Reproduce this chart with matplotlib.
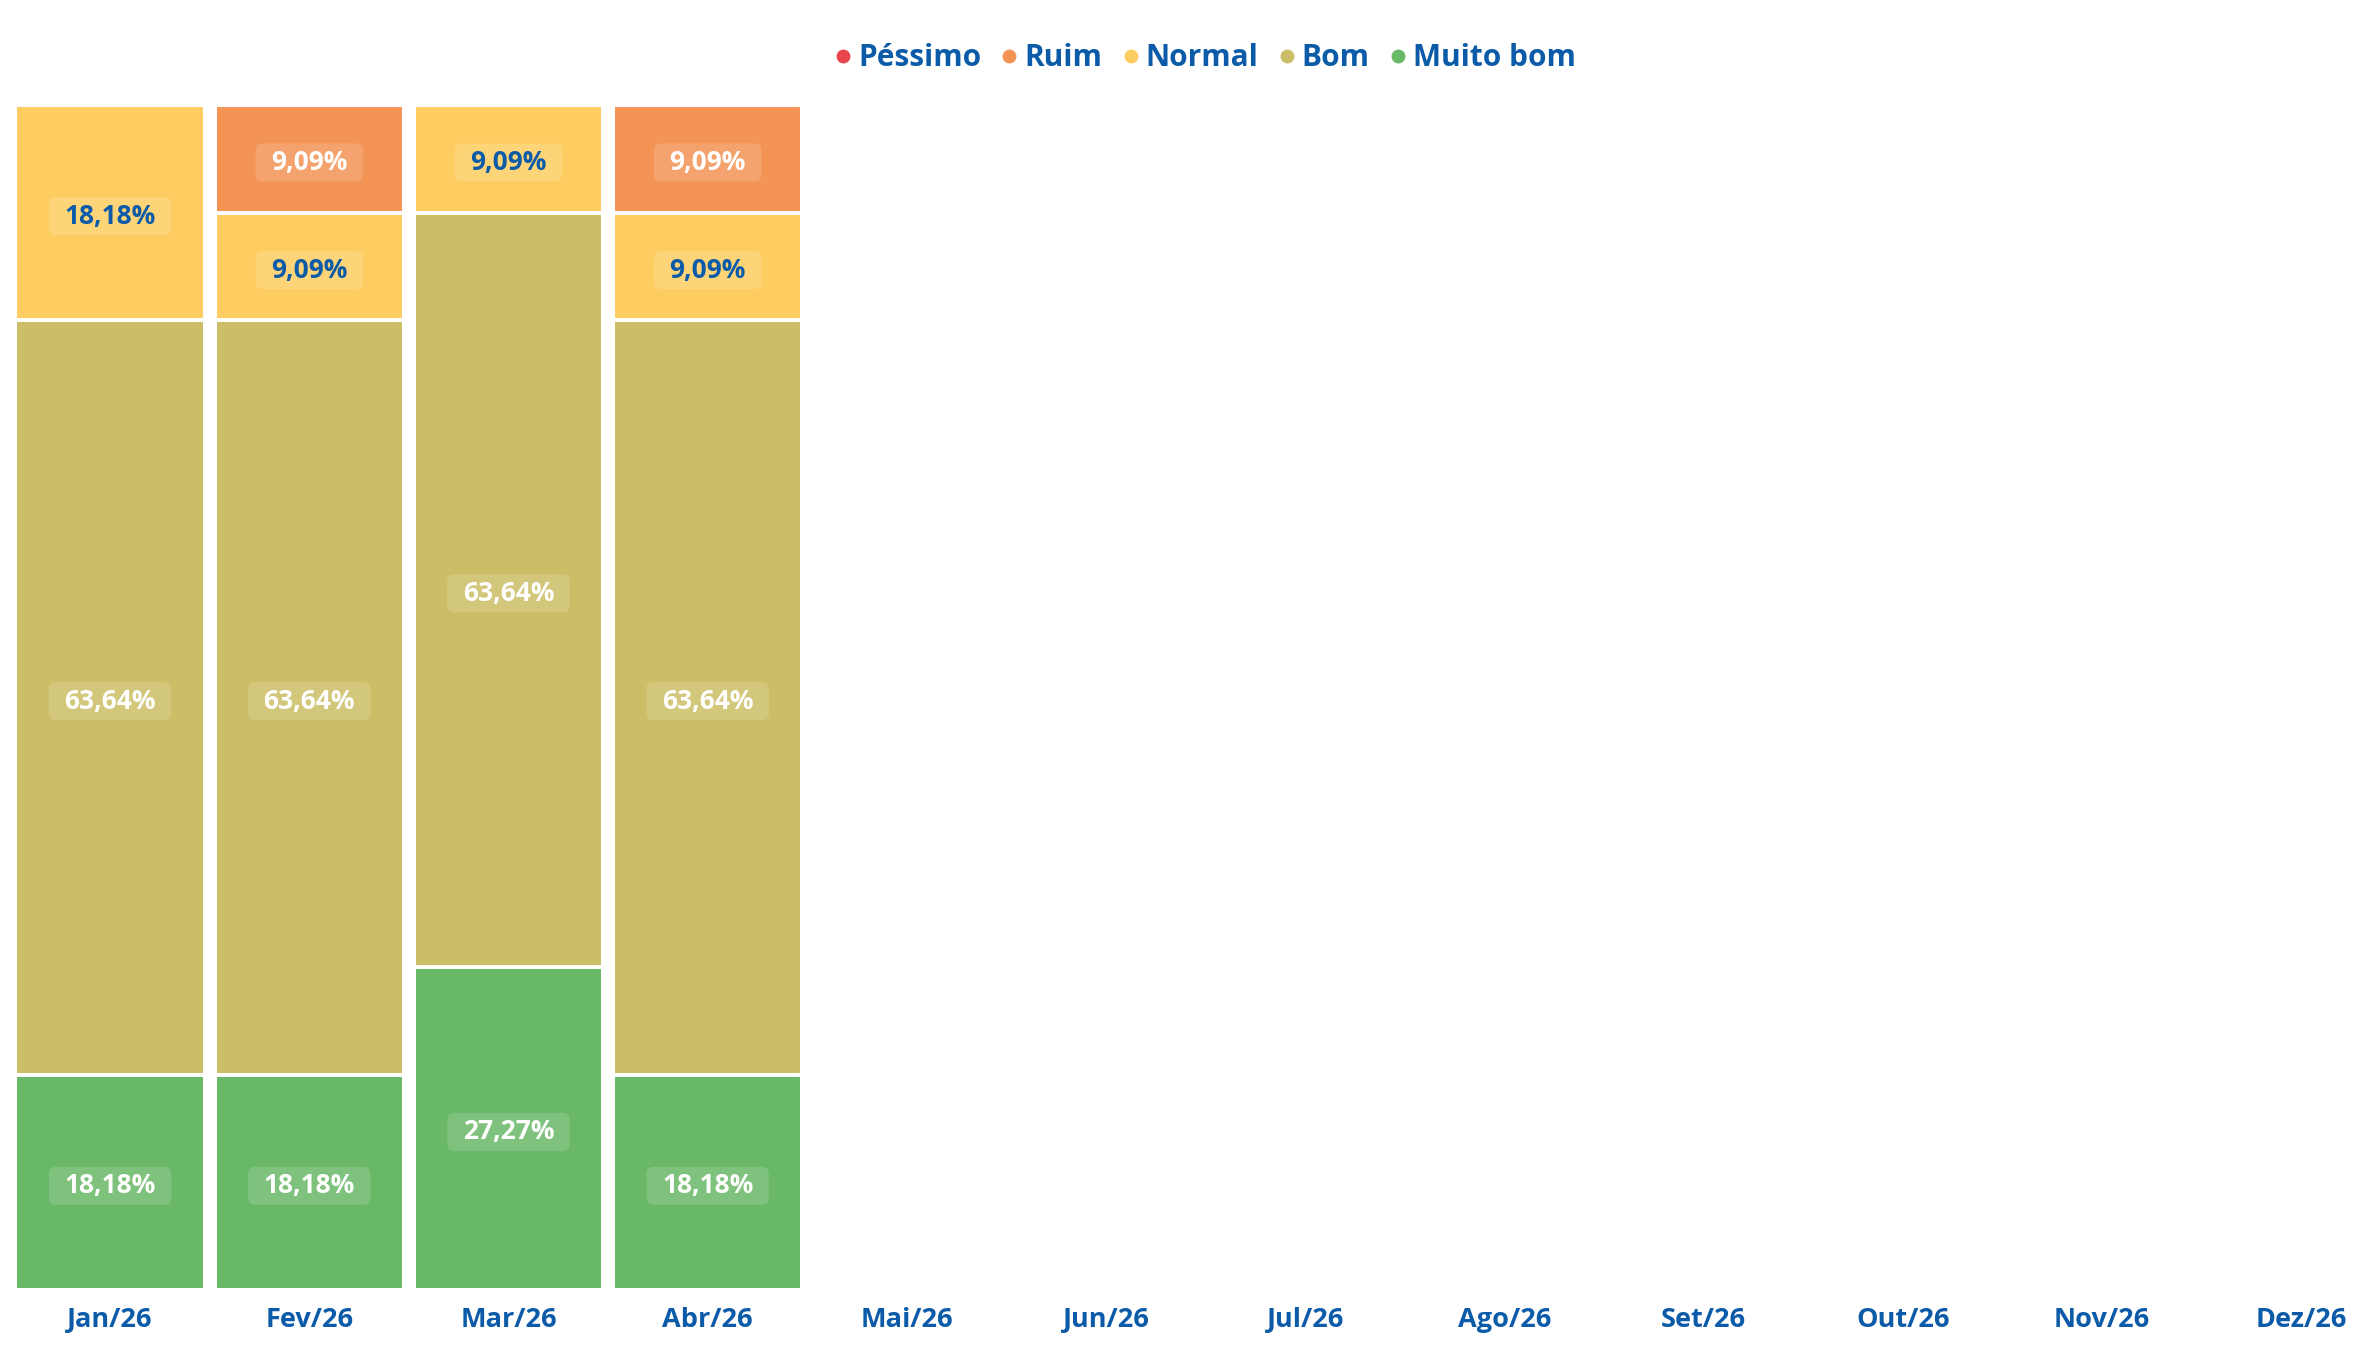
import matplotlib
matplotlib.use("Agg")
import matplotlib.pyplot as plt
from matplotlib.lines import Line2D
from matplotlib.patches import FancyBboxPatch
from matplotlib.transforms import IdentityTransform
import numpy as np

months = ["Jan/26", "Fev/26", "Mar/26", "Abr/26", "Mai/26", "Jun/26",
          "Jul/26", "Ago/26", "Set/26", "Out/26", "Nov/26", "Dez/26"]
categories = ["Péssimo", "Ruim", "Normal", "Bom", "Muito bom"]
pessimo = [0, 0, 0, 0, 0, 0, 0, 0, 0, 0, 0, 0]
ruim = [0, 9.09, 0, 9.09, 0, 0, 0, 0, 0, 0, 0, 0]
normal = [18.18, 9.09, 9.09, 9.09, 0, 0, 0, 0, 0, 0, 0, 0]
bom = [63.64, 63.64, 63.64, 63.64, 0, 0, 0, 0, 0, 0, 0, 0]
muito_bom = [18.18, 18.18, 27.27, 18.18, 0, 0, 0, 0, 0, 0, 0, 0]

colors = {"Péssimo": "#E8464F", "Ruim": "#F39455", "Normal": "#FDCD61",
          "Bom": "#CCBE66", "Muito bom": "#69B867"}
label_colors = {"Péssimo": "white", "Ruim": "white", "Normal": "#0B5BA8",
                "Bom": "white", "Muito bom": "white"}
blue = "#0B5BA8"

plt.rcParams['font.family'] = ['Open Sans', 'DejaVu Sans']

W, H = 2357, 1349
fig = plt.figure(figsize=(W / 100, H / 100), dpi=100)
left_px, right_px = 10.5, W
top_px, bottom_px = 105, 1290
ax = fig.add_axes([left_px / W, 1 - bottom_px / H, (right_px - left_px) / W,
                   (bottom_px - top_px) / H])

unit = 199.2
x = np.arange(len(months))
series = [("Muito bom", muito_bom), ("Bom", bom), ("Normal", normal),
          ("Ruim", ruim), ("Péssimo", pessimo)]
ax.set_xlim(-0.5, -0.5 + (right_px - left_px) / unit)
ax.set_ylim(0, 100)

texts = []
bottoms = np.zeros(len(months))
for name, vals in series:
    vals = np.array(vals, dtype=float)
    ax.bar(x, vals, bottom=bottoms, width=0.95, color=colors[name],
           edgecolor="white", linewidth=2.9, clip_on=False, zorder=2)
    for xi, v, b in zip(x, vals, bottoms):
        if v > 0:
            ypos = b + v / 2 - 0.3
            t = ax.text(xi, ypos, f"{v:.2f}%".replace(".", ","),
                        ha="center", va="center", fontsize=19, fontweight="bold",
                        color=label_colors[name], zorder=6)
            texts.append(t)
    bottoms += vals

ax.set_xticks(x)
ax.set_xticklabels(months, fontsize=19.5, fontweight="bold", color=blue)
ax.tick_params(axis="x", length=0, pad=12)
ax.set_yticks([])
for s in ax.spines.values():
    s.set_visible(False)

# rounded translucent label boxes sized from the rendered text (pixel units)
fig.canvas.draw()
renderer = fig.canvas.get_renderer()
for t in texts:
    bb = t.get_window_extent(renderer)
    cx, cy = (bb.x0 + bb.x1) / 2, (bb.y0 + bb.y1) / 2
    w_px = bb.width + 31
    h_px = 38
    patch = FancyBboxPatch((cx - w_px / 2, cy - h_px / 2), w_px, h_px,
                           boxstyle="round,pad=0,rounding_size=7",
                           fc=(1, 1, 1, 0.15), ec="none", zorder=4,
                           clip_on=False)
    patch.set_transform(IdentityTransform())
    ax.add_artist(patch)

handles = [Line2D([0], [0], marker="o", linestyle="none", markersize=10,
                  markerfacecolor=colors[c], markeredgecolor="none")
           for c in categories]
fig.legend(handles, categories, loc="center", bbox_to_anchor=(1202 / W, 1 - 58 / H),
           ncol=5, frameon=False, labelcolor=blue,
           prop={"weight": "bold", "size": 21.5}, handletextpad=0.0,
           columnspacing=0.45, handlelength=1.0)

fig.savefig("out.png", dpi=100)
